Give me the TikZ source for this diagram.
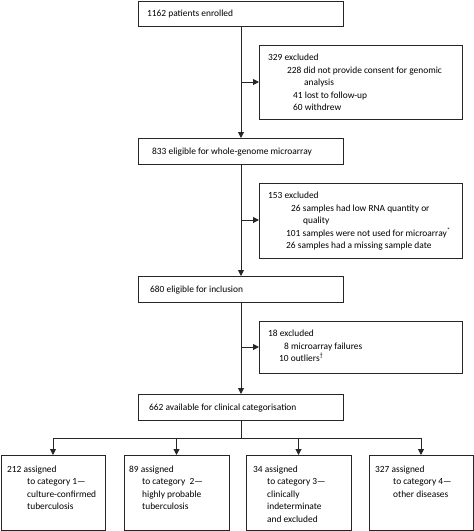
\documentclass[tikz,border=0pt]{standalone}
\usepackage{fontspec}
\setmainfont{Carlito}
\usetikzlibrary{arrows.meta}
\begin{document}
\begin{tikzpicture}[x=1pt,y=-1pt,
  box/.style={draw=black!85,line width=1pt,inner sep=0pt,outer sep=0pt},
  txt/.style={anchor=base west,inner sep=0pt,font=\fontsize{9.4}{11}\selectfont,text=black},
  conn/.style={draw=black!85,line width=1pt},
  arr/.style={conn,-{Triangle[length=6pt,width=6pt]}}]
\useasboundingbox (0,0) rectangle (474,531);
% boxes
\node[box,minimum width=205pt,minimum height=25pt] (top) at (240.5,13.5) {};
\node[box,minimum width=203pt,minimum height=74pt] (e1) at (360.5,82) {};
\node[box,minimum width=205pt,minimum height=26pt] (b2) at (240.5,151) {};
\node[box,minimum width=203pt,minimum height=75pt] (e2) at (360.5,220.5) {};
\node[box,minimum width=205pt,minimum height=26pt] (b3) at (240.5,289) {};
\node[box,minimum width=203pt,minimum height=52pt] (e3) at (360.5,347) {};
\node[box,minimum width=205pt,minimum height=26pt] (b4) at (240.5,407) {};
\node[box,minimum width=104pt,minimum height=75pt] (c1) at (53,492.5) {};
\node[box,minimum width=105pt,minimum height=75pt] (c2) at (176.5,492.5) {};
\node[box,minimum width=105pt,minimum height=75pt] (c3) at (298.5,492.5) {};
\node[box,minimum width=104pt,minimum height=75pt] (c4) at (421,492.5) {};
% main texts
\node[txt] (t1) at (147,16.5) {1162 patients enrolled};
\node[txt] (t2) at (152,154) {833 eligible for whole-genome microarray};
\node[txt] (t3) at (150,292) {680 eligible for inclusion};
\node[txt] (t4) at (149,410) {662 available for clinical categorisation};
% excluded 1
\node[txt] (x11) at (268,60) {329 excluded};
\node[txt] (x12) at (287,73) {228 did not provide consent for genomic};
\node[txt] (x13) at (304,85.5) {analysis};
\node[txt] (x14) at (293,98) {41 lost to follow-up};
\node[txt] (x15) at (293,110.5) {60 withdrew};
% excluded 2
\node[txt] (x21) at (268,198) {153 excluded};
\node[txt] (x22) at (291,211) {26 samples had low RNA quantity or};
\node[txt] (x23) at (303,223.5) {quality};
\node[txt] (x24) at (286,236) {101 samples were not used for microarray\textsuperscript{*}};
\node[txt] (x25) at (286,248.5) {26 samples had a missing sample date};
% excluded 3
\node[txt] (x31) at (268,336) {18 excluded};
\node[txt] (x32) at (284,349) {8 microarray failures};
\node[txt] (x33) at (279,361.5) {10 outliers\textsuperscript{†}};
% categories
\node[txt] (c11) at (7,472) {212 assigned};
\node[txt] (c12) at (27,484.5) {to category 1—};
\node[txt] (c13) at (27,497) {culture-confirmed};
\node[txt] (c14) at (27,509.5) {tuberculosis};
\node[txt] (c21) at (129,472) {89 assigned};
\node[txt] (c22) at (142,484.5) {to category\ \ 2—};
\node[txt] (c23) at (142,497) {highly probable};
\node[txt] (c24) at (142,509.5) {tuberculosis};
\node[txt] (c31) at (253,472) {34 assigned};
\node[txt] (c32) at (267,484.5) {to category 3—};
\node[txt] (c33) at (267,497) {clinically};
\node[txt] (c34) at (267,509.5) {indeterminate};
\node[txt] (c35) at (267,522) {and excluded};
\node[txt] (c41) at (375,472) {327 assigned};
\node[txt] (c42) at (393,484.5) {to category 4—};
\node[txt] (c43) at (393,497) {other diseases};
% connectors
\coordinate (j1) at (241,82);
\coordinate (j2) at (241,220);
\coordinate (j3) at (241,347);
\coordinate (j4) at (241,438);
\draw[arr] (top.south -| j1) -- (b2.north -| j1);
\draw[arr] (j1) -- (e1.west |- j1);
\draw[arr] (b2.south -| j2) -- (b3.north -| j2);
\draw[arr] (j2) -- (e2.west |- j2);
\draw[arr] (b3.south -| j3) -- (b4.north -| j3);
\draw[arr] (j3) -- (e3.west |- j3);
\draw[conn] (b4.south -| j4) -- (j4);
\draw[conn] (j4 -| c1) -- (j4 -| c4);
\draw[arr] (j4 -| c1) -- (c1.north);
\draw[arr] (j4 -| c2) -- (c2.north);
\draw[arr] (j4 -| c3) -- (c3.north);
\draw[arr] (j4 -| c4) -- (c4.north);
\end{tikzpicture}
\end{document}
